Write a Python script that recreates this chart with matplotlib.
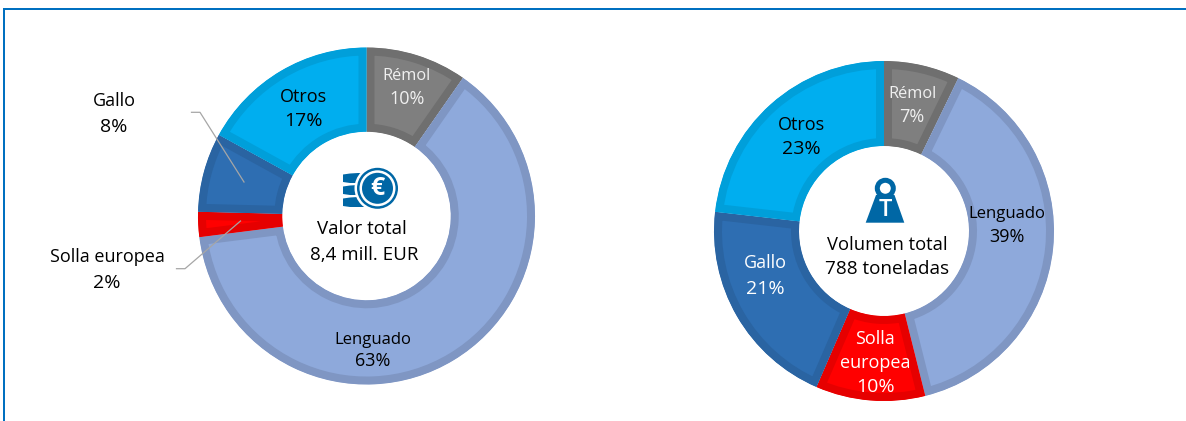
"""
Two donut charts: share of value and of volume by species.
"""
import matplotlib
matplotlib.use("Agg")
import matplotlib.pyplot as plt
from matplotlib.patches import Circle, Polygon, Rectangle

plt.rcParams['font.family'] = ['Open Sans', 'DejaVu Sans']

###############################################################################
# Data:
species = ['Rémol', 'Lenguado', 'Solla europea', 'Gallo', 'Otros']
value_share = [9.7, 63.3, 2.4, 7.6, 17.0]
volume_share = [7.2, 38.9, 10.4, 20.3, 23.2]

fills = ['#7F7F7F', '#8EA9DB', '#FF0000', '#2E6EB2', '#00AEEF']
edges = ['#6F6F6F', '#7F96C3', '#E60000', '#2A64A2', '#009FDA']

BLUE = '#0067A5'
W, H = 1186, 421


def Y(y):
    # picture rows run downwards, the axes upwards
    return H - y


def donut(ax, shares, cx, cy, radius):
    wedges, _ = ax.pie(shares, colors=fills, startangle=90, counterclock=False,
                       center=(cx, Y(cy)), radius=radius,
                       wedgeprops=dict(width=radius / 2, linewidth=0), frame=True)
    for w, ec in zip(wedges, edges):
        # stroke clipped to its own slice, so that it lies inside the slice
        w.set_edgecolor(ec)
        w.set_linewidth(11.5)
        w.set_joinstyle('miter')
        w.set_clip_on(True)
        w.set_clip_path(w)


def label(ax, x, y, s, size=13, color='black'):
    ax.text(x, Y(y + 1.5), s, ha='center', va='center', fontsize=size, color=color)


fig = plt.figure(figsize=(W / 100, H / 100), dpi=100)
ax = fig.add_axes([0, 0, 1, 1])

donut(ax, value_share, 366.5, 216, 168.5)
donut(ax, volume_share, 884, 231, 170)

ax.set_xlim(0, W)
ax.set_ylim(0, H)
ax.set_aspect('equal')
ax.axis('off')

# frame of the box
ax.add_patch(Rectangle((3, 0), 2, Y(8), color='#0070C0', lw=0))
ax.add_patch(Rectangle((3, Y(10)), W - 3, 2, color='#0070C0', lw=0))

# leader lines
ax.plot([191.5, 200, 244], [Y(112.3), Y(112.3), Y(182)], color='#A6A6A6', lw=0.9)
ax.plot([176.5, 185, 240.5], [Y(268.7), Y(268.7), Y(221)], color='#A6A6A6', lw=0.9)

# labels, left donut
label(ax, 407, 75, 'Rémol', 11.8, '#F0F0F0')
label(ax, 407, 97, '10%', 13, '#F0F0F0')
label(ax, 303, 95, 'Otros')
label(ax, 303, 120, '17%', 14)
label(ax, 114, 100, 'Gallo')
label(ax, 114, 125, '8%', 14)
label(ax, 107, 256, 'Solla europea')
label(ax, 107, 282, '2%', 14)
label(ax, 373, 338, 'Lenguado', 12)
label(ax, 373, 360, '63%', 13)
label(ax, 362, 228, 'Valor total', 13.5)
label(ax, 364, 253, '8,4 mill. EUR', 13.5)

# labels, right donut
label(ax, 912, 93, 'Rémol', 11.8, '#F0F0F0')
label(ax, 912, 116, '7%', 13, '#F0F0F0')
label(ax, 801, 123, 'Otros')
label(ax, 801, 148, '23%', 14)
label(ax, 1007, 213, 'Lenguado', 12)
label(ax, 1007, 235, '39%', 13)
label(ax, 765, 262, 'Gallo', color='white')
label(ax, 765, 287, '21%', 14, color='white')
label(ax, 875, 337, 'Solla', color='white')
label(ax, 875, 362, 'europea', color='white')
label(ax, 875, 386, '10%', 14, color='white')
label(ax, 887, 243, 'Volumen total', 13.2)
label(ax, 887, 268, '788 toneladas', 13.6)

###############################################################################
# Icons

# coin stack
for top in (173, 185, 197):
    ax.add_patch(Polygon([(343, Y(top + 1.5)), (350, Y(top + 0.5)), (358, Y(top)), (366, Y(top)),
                          (366, Y(top + 10)), (358, Y(top + 10)), (350, Y(top + 10)), (343, Y(top + 9))],
                         color=BLUE, lw=0))
ax.add_patch(Circle((377.5, Y(188.3)), 23, color='white', lw=0))
ax.add_patch(Circle((377.5, Y(188.3)), 20.5, color=BLUE, lw=0))
ax.add_patch(Circle((377.5, Y(188.3)), 18, color='white', lw=0))
ax.add_patch(Circle((377.5, Y(188.3)), 15.5, color=BLUE, lw=0))
ax.text(377.5, Y(188.8), '€', ha='center', va='center', fontsize=18,
        fontweight='bold', color='white')

# weight
ax.add_patch(Circle((885.3, Y(188.3)), 8, fill=False, ec=BLUE, lw=3.6))
ax.add_patch(Polygon([(876, Y(195)), (894.5, Y(195)), (904.3, Y(222.7)), (865.7, Y(222.7))],
                     color=BLUE, lw=0))
ax.text(885.2, Y(209.5), 'T', ha='center', va='center', fontsize=17,
        fontweight='semibold', color='white')

fig.savefig('out.png', dpi=100)
